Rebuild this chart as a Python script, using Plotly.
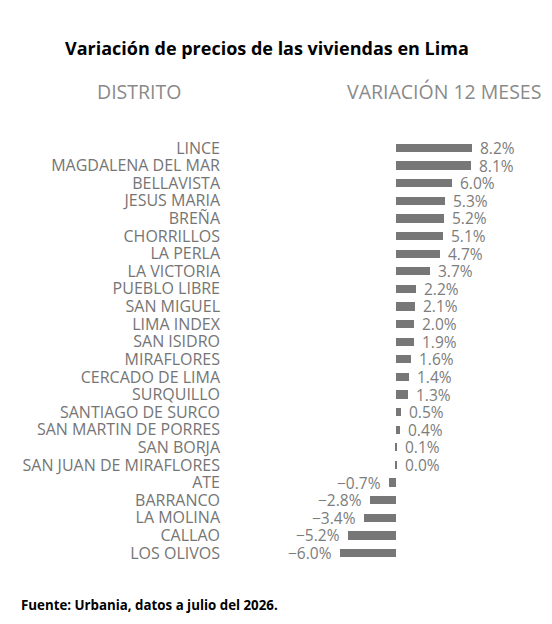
import plotly.graph_objects as go

# districts, top to bottom
distritos = [
    "LINCE", "MAGDALENA DEL MAR", "BELLAVISTA", "JESUS MARIA", "BREÑA",
    "CHORRILLOS", "LA PERLA", "LA VICTORIA", "PUEBLO LIBRE", "SAN MIGUEL",
    "LIMA INDEX", "SAN ISIDRO", "MIRAFLORES", "CERCADO DE LIMA", "SURQUILLO",
    "SANTIAGO DE SURCO", "SAN MARTIN DE PORRES", "SAN BORJA",
    "SAN JUAN DE MIRAFLORES", "ATE", "BARRANCO", "LA MOLINA", "CALLAO",
    "LOS OLIVOS",
]
variacion = [
    8.2, 8.1, 6.0, 5.3, 5.2, 5.1, 4.7, 3.7, 2.2, 2.1, 2.0, 1.9, 1.6, 1.4,
    1.3, 0.5, 0.4, 0.1, 0.0, -0.7, -2.8, -3.4, -5.2, -6.0,
]

etiquetas = [("%.1f%%" % v).replace("-", "\u2212") for v in variacion]
# keep a hairline visible for the 0.0 row
valores_barra = [v if v != 0 else 0.1 for v in variacion]

gris_txt = "#757575"
fuente = "Open Sans"

# page body has an 8px margin: keep the figure inside the 552x624 window
W, H = 536, 608
L, T, B = 222, 127, 50
pw, ph = W - L, H - T - B

fig = go.Figure(go.Bar(
    x=valores_barra,
    y=distritos,
    orientation="h",
    width=0.47,
    marker=dict(color="#777777", line=dict(width=0)),
    hoverinfo="skip",
))

for d, v, t in zip(distritos, variacion, etiquetas):
    fig.add_annotation(
        x=max(v, 0.1) if v >= 0 else v, y=d, text=t, showarrow=False,
        xanchor="left" if v >= 0 else "right",
        xshift=6 if v >= 0 else -6,
        font=dict(family=fuente, size=15.5, color="#7c7c7c"),
    )

fig.update_layout(
    width=W,
    height=H,
    margin=dict(l=L, r=0, t=T, b=B),
    paper_bgcolor="white",
    plot_bgcolor="white",
    showlegend=False,
    bargap=0,
    font=dict(family=fuente),
)

fig.update_xaxes(range=[-17.9, 15.97], visible=False, fixedrange=True)
fig.update_yaxes(
    autorange="reversed",
    tickmode="array",
    tickvals=distritos,
    ticktext=distritos,
    automargin=False,
    showgrid=False,
    zeroline=False,
    showline=False,
    ticks="",
    ticklabelstandoff=9,
    tickfont=dict(family=fuente, size=16, color=gris_txt),
)


def px(x, y):
    # screen pixel -> paper coords
    return (x - 8 - L) / pw, 1 - (y - 8 - T) / ph


x0, y0 = px(267, 48)
fig.add_annotation(
    text="<b>Variación de precios de las viviendas en Lima</b>",
    xref="paper", yref="paper", x=x0, y=y0,
    xanchor="center", yanchor="middle", showarrow=False,
    font=dict(family="Open Sans", size=18, color="black"),
)
x0, y0 = px(139, 91)
fig.add_annotation(
    text="DISTRITO",
    xref="paper", yref="paper", x=x0, y=y0,
    xanchor="center", yanchor="middle", showarrow=False,
    font=dict(family=fuente, size=19.5, color="#8a8a8a"),
)
x0, y0 = px(444, 91)
fig.add_annotation(
    text="VARIACIÓN 12 MESES",
    xref="paper", yref="paper", x=x0, y=y0,
    xanchor="center", yanchor="middle", showarrow=False,
    font=dict(family=fuente, size=19.5, color="#8a8a8a"),
)
x0, y0 = px(19, 605)
fig.add_annotation(
    text="<b>Fuente: Urbania, datos a julio del 2026.</b>",
    xref="paper", yref="paper", x=x0, y=y0,
    xanchor="left", yanchor="middle", showarrow=False,
    font=dict(family="Open Sans", size=13.3, color="black"),
)

fig.write_html("out.html")
